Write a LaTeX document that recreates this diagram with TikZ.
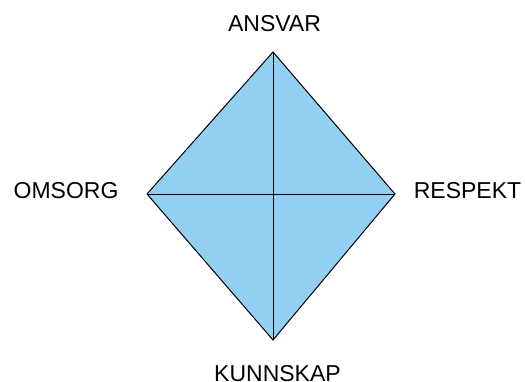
\documentclass[tikz,border=0pt]{standalone}
\usepackage{fontspec}
\setmainfont{Liberation Sans}
\usepackage{tikz}
\definecolor{kiteblue}{RGB}{146,207,242}

\begin{document}
\begin{tikzpicture}[x=1pt, y=-1pt,
	corner/.style = {font=\fontsize{23}{27}\selectfont, inner sep=0pt}]
\useasboundingbox (0,0) rectangle (525,381);
\coordinate (top) at (273,52);
\coordinate (right) at (395,194);
\coordinate (bottom) at (273,340);
\coordinate (left) at (147,194);

\draw[line width=1pt, fill = kiteblue] (top)--(right)--(bottom)--(left)--cycle;
\draw[line width=1pt] (top)--(bottom);
\draw[line width=1pt] (left)--(right);

\node[corner] (ansvar) at (274.5,24) {ANSVAR};
\node[corner] (omsorg) at (66,191) {OMSORG};
\node[corner] (respekt) at (467.5,190.5) {RESPEKT};
\node[corner] (kunnskap) at (277.5,374) {KUNNSKAP};
\end{tikzpicture}
\end{document}
